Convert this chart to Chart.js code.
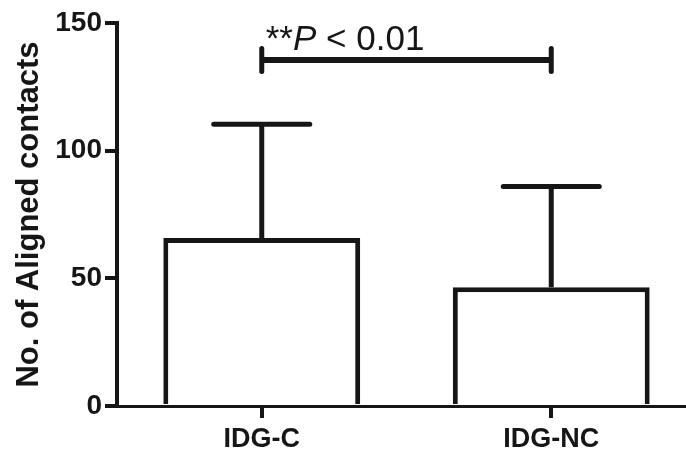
<!DOCTYPE html>
<html>
<head>
<meta charset="utf-8">
<script src="https://cdn.jsdelivr.net/npm/chart.js@4/dist/chart.umd.min.js"></script>
<style>
html,body{margin:0;padding:0;background:#fff;overflow:hidden;}
canvas{display:block;}
</style>
</head>
<body>
<canvas id="c" width="700" height="452"></canvas>
<script>
// ---- data ----
const categories = ["IDG-C", "IDG-NC"];
const meanValues = [65.8, 46.5];
const sdValues = [44.5, 39.5];
const yTicks = [0, 50, 100, 150];
const sigLabel = "**P < 0.01";
const sigLevel = 135.5;
const sigTickTop = 140;
const sigTickBottom = 131;

const INK = "#161616";
const FONT = "'Liberation Sans', Arial, Helvetica, sans-serif";

const errorBars = {
  id: "errorBars",
  afterDatasetsDraw(chart) {
    const ctx = chart.ctx;
    const meta = chart.getDatasetMeta(0);
    const y = chart.scales.y;
    ctx.save();
    ctx.strokeStyle = INK;
    meta.data.forEach((bar, i) => {
      const top = y.getPixelForValue(meanValues[i] + sdValues[i]);
      const base = y.getPixelForValue(meanValues[i]);
      ctx.lineWidth = 5;
      ctx.lineCap = "butt";
      ctx.beginPath();
      ctx.moveTo(bar.x, base);
      ctx.lineTo(bar.x, top);
      ctx.stroke();
      ctx.lineCap = "round";
      ctx.beginPath();
      ctx.moveTo(bar.x - 48, top);
      ctx.lineTo(bar.x + 48, top);
      ctx.stroke();
    });
    // significance bracket
    const x1 = meta.data[0].x, x2 = meta.data[1].x;
    const yl = y.getPixelForValue(sigLevel);
    const yt = y.getPixelForValue(sigTickTop);
    const yb = y.getPixelForValue(sigTickBottom);
    ctx.lineCap = "butt";
    ctx.lineWidth = 6;
    ctx.beginPath();
    ctx.moveTo(x1, yl);
    ctx.lineTo(x2, yl);
    ctx.stroke();
    ctx.lineCap = "round";
    ctx.lineWidth = 5;
    [x1, x2].forEach(x => {
      ctx.beginPath();
      ctx.moveTo(x, yt);
      ctx.lineTo(x, yb);
      ctx.stroke();
    });
    // label: **P < 0.01 with italic P
    ctx.fillStyle = INK;
    ctx.textBaseline = "alphabetic";
    ctx.textAlign = "left";
    let tx = x1 + 4;
    const ty = yt + 1;
    const parts = [["**", "normal"], ["P", "italic"], [" < 0.01", "normal"]];
    parts.forEach(([t, st]) => {
      ctx.font = st + " 35px " + FONT;
      ctx.fillText(t, tx, ty);
      tx += ctx.measureText(t).width;
    });
    ctx.restore();
  }
};

new Chart(document.getElementById("c"), {
  type: "bar",
  data: {
    labels: categories,
    datasets: [{
      data: meanValues,
      backgroundColor: "#ffffff",
      borderColor: INK,
      borderWidth: 5,
      borderSkipped: "bottom",
      barPercentage: 0.68,
      categoryPercentage: 1.0
    }]
  },
  options: {
    responsive: false,
    animation: false,
    layout: { padding: { top: 23, right: 4, bottom: 0, left: 0 } },
    plugins: { legend: { display: false }, tooltip: { enabled: false } },
    scales: {
      x: {
        offset: true,
        grid: { offset: false, drawOnChartArea: false, drawTicks: true, tickLength: 12, lineWidth: 4, color: INK },
        border: { display: true, color: INK, width: 3 },
        ticks: { color: INK, font: { family: FONT, size: 27, weight: "bold" }, padding: 5 },
        afterFit(s) { s.height = 46; }
      },
      y: {
        min: 0, max: 150,
        afterBuildTicks(s) { s.ticks = yTicks.map(v => ({ value: v })); },
        grid: { drawOnChartArea: false, drawTicks: true, tickLength: 12, lineWidth: 4, color: INK },
        border: { display: true, color: INK, width: 4 },
        ticks: { color: INK, font: { family: FONT, size: 28, weight: "bold" }, padding: 3 },
        title: { display: true, text: "No. of Aligned contacts", color: INK, font: { family: FONT, size: 31, weight: "bold" }, padding: { top: 11, bottom: 0 } },
        afterFit(s) { s.width = 117; }
      }
    }
  },
  plugins: [errorBars]
});
</script>
</body>
</html>
